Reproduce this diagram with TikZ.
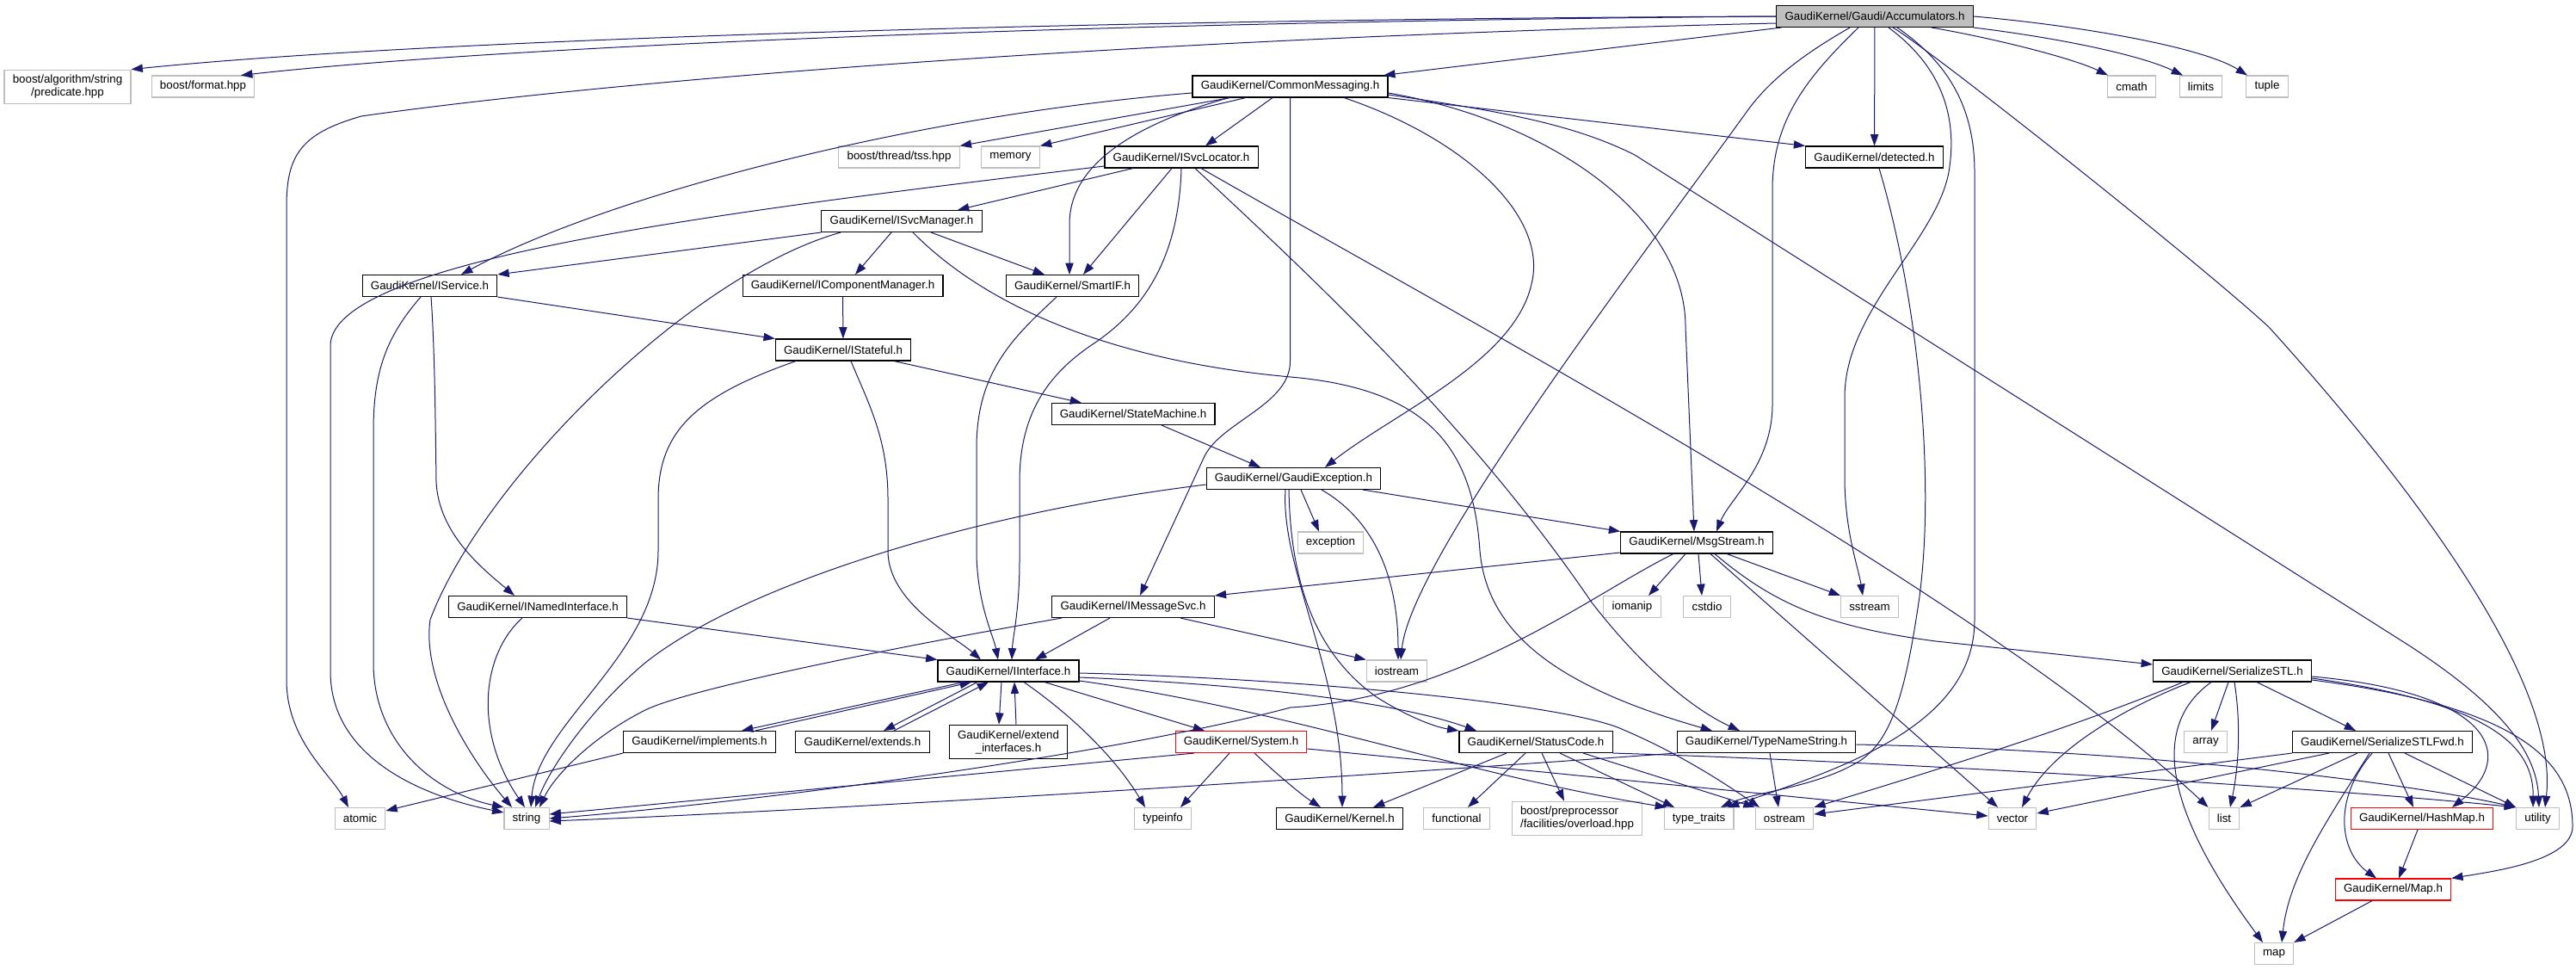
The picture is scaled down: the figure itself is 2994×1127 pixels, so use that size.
\documentclass[tikz,border=0pt]{standalone}
\usepackage{fontspec}
\setmainfont{Liberation Sans}
\usetikzlibrary{arrows.meta}

\definecolor{depblue}{RGB}{25,25,112}
\definecolor{sysgrey}{RGB}{191,191,191}

\tikzset{
    hdr/.style={draw=black, line width=0.8pt, fill=white, inner xsep=7.3pt, inner ysep=4.6pt,
        minimum height=18.75pt, align=center, font=\fontsize{10}{11.25}\selectfont},
    sysinc/.style={hdr, draw=sysgrey},
    nodoc/.style={hdr, draw=red},
    cur/.style={hdr, fill=sysgrey},
    dep/.style={draw=depblue, line width=0.75pt, -{Triangle[length=10pt,width=7pt]}},
}

\begin{document}
\begin{tikzpicture}[x=0.75pt, y=-0.75pt]
\useasboundingbox (0,0) rectangle (2994,1127);

% header files
\node[cur] (acc) at (2179,19) {GaudiKernel/Gaudi/Accumulators.h};
\node[sysinc] (pred) at (78.5,101) {boost/algorithm/string\\/predicate.hpp};
\node[sysinc] (fmt) at (236,100.5) {boost/format.hpp};
\node[hdr] (cm) at (1499.5,100.5) {GaudiKernel/CommonMessaging.h};
\node[sysinc] (cmath) at (2477.5,100.5) {cmath};
\node[sysinc] (limits) at (2558,100.5) {limits};
\node[sysinc] (tuple) at (2635,100.5) {tuple};
\node[sysinc] (tss) at (1045,182.5) {boost/thread/tss.hpp};
\node[sysinc] (mem) at (1174.5,182.5) {memory};
\node[hdr] (isl) at (1373,182.5) {GaudiKernel/ISvcLocator.h};
\node[hdr] (det) at (2178.5,182.5) {GaudiKernel/detected.h};
\node[hdr] (ism) at (1048,257) {GaudiKernel/ISvcManager.h};
\node[hdr] (isv) at (499.5,332) {GaudiKernel/IService.h};
\node[hdr] (icm) at (979.5,332) {GaudiKernel/IComponentManager.h};
\node[hdr] (sif) at (1246.5,332) {GaudiKernel/SmartIF.h};
\node[hdr] (ist) at (980,406.5) {GaudiKernel/IStateful.h};
\node[hdr] (sm) at (1317,481) {GaudiKernel/StateMachine.h};
\node[hdr] (gex) at (1503.5,556) {GaudiKernel/GaudiException.h};
\node[sysinc] (exc) at (1546.5,630.5) {exception};
\node[hdr] (ms) at (1972,630.5) {GaudiKernel/MsgStream.h};
\node[hdr] (ini) at (625,705) {GaudiKernel/INamedInterface.h};
\node[hdr] (ims) at (1317,705) {GaudiKernel/IMessageSvc.h};
\node[sysinc] (iom) at (1897,705) {iomanip};
\node[sysinc] (cst) at (1984,705) {cstdio};
\node[sysinc] (sst) at (2173,705) {sstream};
\node[hdr] (iif) at (1172,779.5) {GaudiKernel/IInterface.h};
\node[sysinc] (ios) at (1623.5,779.5) {iostream};
\node[hdr] (sstl) at (2594.5,779.5) {GaudiKernel/SerializeSTL.h};
\node[hdr] (imp) at (813,862) {GaudiKernel/implements.h};
\node[hdr] (ext) at (1002.5,862) {GaudiKernel/extends.h};
\node[hdr] (exi) at (1172,862) {GaudiKernel/extend\\\_interfaces.h};
\node[nodoc] (sys) at (1442.5,862) {GaudiKernel/System.h};
\node[hdr] (sc) at (1785,862) {GaudiKernel/StatusCode.h};
\node[hdr] (tns) at (2053,862) {GaudiKernel/TypeNameString.h};
\node[sysinc] (arr) at (2563.5,862) {array};
\node[hdr] (sfwd) at (2769,862) {GaudiKernel/SerializeSTLFwd.h};
\node[sysinc] (atm) at (418.5,951) {atomic};
\node[sysinc] (str) at (612,951) {string};
\node[sysinc] (tinf) at (1351.5,951) {typeinfo};
\node[hdr] (krn) at (1557,951) {GaudiKernel/Kernel.h};
\node[sysinc] (fnc) at (1693,951) {functional};
\node[sysinc, align=left] (ovl) at (1833,951) {boost/preprocessor\\/facilities/overload.hpp};
\node[sysinc] (ttr) at (1974.5,951) {type\_traits};
\node[sysinc] (ost) at (2074,951) {ostream};
\node[sysinc] (vec) at (2339,951) {vector};
\node[sysinc] (lst) at (2585,951) {list};
\node[nodoc] (hm) at (2815,951) {GaudiKernel/HashMap.h};
\node[sysinc] (utl) at (2949.5,951) {utility};
\node[nodoc] (mapH) at (2781.5,1033.5) {GaudiKernel/Map.h};
\node[sysinc] (map) at (2643,1108) {map};

% Accumulators.h
\draw[dep] (acc.west) .. controls (1300,22) and (500,45) .. (pred.north east);
\draw[dep] (acc.west) .. controls (1300,25) and (600,52) .. (fmt.north -| 280,0);
\draw[dep] (acc.west |- 0,27) .. controls (1300,45) and (700,95) .. (420,135) .. controls (350,155) and (333,180) .. (333,240) -- (333,790) .. controls (333,860) and (385,900) .. (atm.north -| 405,0);
\draw[dep] (acc) -- (cm);
\draw[dep] (acc.south -| 2150,0) .. controls (2105,58) and (2060,88) .. (2030,130) .. controls (1900,310) and (1640,650) .. (ios.north -| 1628,0);
\draw[dep] (acc.south -| 2160,0) .. controls (2100,90) and (2060,140) .. (2060,220) -- (2060,470) .. controls (2060,540) and (2010,580) .. (ms.north -| 1995,0);
\draw[dep] (acc) -- (det);
\draw[dep] (acc.south -| 2195,0) .. controls (2260,80) and (2275,140) .. (2265,200) .. controls (2250,280) and (2145,360) .. (2144,460) -- (2144,560) .. controls (2145,620) and (2160,660) .. (sst.north -| 2165,0);
\draw[dep] (acc.south -| 2200,0) .. controls (2240,55) and (2550,300) .. (2637,380) .. controls (2800,560) and (2975,790) .. (utl.north -| 2958,0);
\draw[dep] (acc.south -| 2205,0) .. controls (2260,70) and (2295,120) .. (2295,200) -- (2295,720) .. controls (2295,840) and (2150,890) .. (ttr.north -| 2008,0);
\draw[dep] (acc.south -| 2245,0) .. controls (2320,45) and (2410,68) .. (cmath.north -| 2450,0);
\draw[dep] (acc.south east) .. controls (2400,45) and (2490,65) .. (limits.north -| 2537,0);
\draw[dep] (acc.east) .. controls (2420,30) and (2560,55) .. (tuple.north -| 2612,0);

% CommonMessaging.h
\draw[dep] (cm.west |- 0,108) .. controls (1050,135) and (700,230) .. (isv.north -| 536,0);
\draw[dep] (cm.south -| 1430,0) -- (tss.north east);
\draw[dep] (cm.south -| 1448,0) -- (mem.north east);
\draw[dep] (cm.south -| 1479,0) -- (isl.north -| 1401,0);
\draw[dep] (cm.south -| 1428,0) .. controls (1300,150) and (1243,200) .. (1243,260) -- (sif.north -| 1243,0);
\draw[dep] (cm.south) -- (1499.5,420) .. controls (1499.5,470) and (1420,490) .. (1400,530) -- (ims.north -| 1325,0);
\draw[dep] (cm.south -| 1562,0) .. controls (1700,160) and (1800,250) .. (1780,330) .. controls (1760,420) and (1620,480) .. (gex.north -| 1540,0);
\draw[dep] (cm.east |- 0,108) .. controls (1800,140) and (1959,250) .. (1959,380) -- (ms.north -| 1969,0);
\draw[dep] (cm.south east) -- (det.north west);
\draw[dep] (cm.east |- 0,110) .. controls (1750,130) and (1830,145) .. (1900,180) -- (2800,750) .. controls (2900,815) and (2948,870) .. (utl.north -| 2951,0);

% ISvcLocator.h, ISvcManager.h
\draw[dep] (isl.west |- 0,193) .. controls (850,245) and (390,300) .. (384,400) -- (384,780) .. controls (384,880) and (490,925) .. (str.west |- 0,944);
\draw[dep] (isl.south -| 1317,0) -- (ism.north -| 1113,0);
\draw[dep] (isl.south -| 1362,0) -- (sif.north -| 1259,0);
\draw[dep] (isl.south) .. controls (1370,300) and (1330,360) .. (1270,400) .. controls (1210,440) and (1185,490) .. (1185,560) -- (1185,650) .. controls (1185,710) and (1177,740) .. (iif.north -| 1176,0);
\draw[dep] (isl.south -| 1389,0) .. controls (1500,300) and (1700,480) .. (1850,700) .. controls (1920,790) and (1980,830) .. (tns.north -| 2022,0);
\draw[dep] (isl.south -| 1396,0) .. controls (1700,370) and (2300,690) .. (lst.north west);
\draw[dep] (ism.south west) -- (isv.north east);
\draw[dep] (ism.south -| 977,0) .. controls (800,320) and (560,560) .. (500,720) .. controls (490,790) and (545,880) .. (str.north -| 595,0);
\draw[dep] (ism.south -| 1036,0) -- (icm.north -| 994,0);
\draw[dep] (ism.south -| 1082,0) -- (sif.north -| 1214,0);
\draw[dep] (ism.south -| 1061,0) .. controls (1150,360) and (1300,420) .. (1500,438) .. controls (1660,452) and (1712,520) .. (1720,640) .. controls (1728,730) and (1800,795) .. (tns.north -| 1990,0);
\draw[dep] (icm) -- (ist);
\draw[dep] (sif.south -| 1228,0) .. controls (1180,390) and (1135,430) .. (1135,520) -- (1135,640) .. controls (1135,700) and (1155,740) .. (iif.north -| 1160,0);

% IService.h, INamedInterface.h, IStateful.h
\draw[dep] (isv.south -| 489,0) .. controls (450,390) and (434,430) .. (434,500) -- (434,770) .. controls (434,860) and (500,920) .. (str.north west);
\draw[dep] (isv.south -| 501,0) .. controls (505,400) and (506,480) .. (507,560) .. controls (510,620) and (560,660) .. (ini.north -| 598,0);
\draw[dep] (isv.south east) -- (ist.north west);
\draw[dep] (ini.south -| 607,0) .. controls (560,760) and (550,850) .. (str.north -| 610,0);
\draw[dep] (ini.south east) -- (iif.north west);
\draw[dep] (ist.south -| 925,0) .. controls (810,460) and (765,500) .. (765,580) -- (765,640) .. controls (765,760) and (625,840) .. (str.north -| 617,0);
\draw[dep] (ist.south -| 989,0) .. controls (1010,470) and (1032,510) .. (1032,580) -- (1032,640) .. controls (1032,700) and (1110,740) .. (iif.north -| 1140,0);
\draw[dep] (ist.south -| 1039,0) -- (sm.north -| 1257,0);
\draw[dep] (sm.south -| 1350,0) -- (gex.north -| 1465,0);

% GaudiException.h, IMessageSvc.h, MsgStream.h
\draw[dep] (gex.west |- 0,563) .. controls (1100,600) and (850,690) .. (750,770) .. controls (690,820) and (640,890) .. (str.north -| 622,0);
\draw[dep] (gex.south -| 1512,0) -- (exc.north -| 1533,0);
\draw[dep] (gex.south -| 1536,0) .. controls (1590,600) and (1625,660) .. (ios.north -| 1625,0);
\draw[dep] (gex.south -| 1584,0) -- (ms.north west);
\draw[dep] (gex.south -| 1494,0) .. controls (1488,660) and (1560,780) .. (krn.north -| 1560,0);
\draw[dep] (gex.south -| 1498,0) .. controls (1500,680) and (1530,760) .. (1600,810) .. controls (1640,835) and (1670,845) .. (sc.north west);
\draw[dep] (ims.south -| 1234,0) .. controls (1050,750) and (800,800) .. (750,825) .. controls (690,855) and (645,900) .. (str.north -| 627,0);
\draw[dep] (ims.south -| 1290,0) -- (iif.north -| 1203,0);
\draw[dep] (ims.south -| 1372,0) -- (ios.north west);
\draw[dep] (ms.west |- 0,642) -- (ims.north east);
\draw[dep] (ms.south -| 1959,0) -- (iom.north -| 1916,0);
\draw[dep] (ms.south -| 1974,0) -- (cst.north -| 1978,0);
\draw[dep] (ms.south -| 2007,0) -- (sst.north west);
\draw[dep] (ms.south -| 1945,0) .. controls (1850,690) and (1700,810) .. (1500,822) .. controls (1300,875) and (900,930) .. (str.east);
\draw[dep] (ms.south -| 1988,0) -- (vec.north -| 2322,0);
\draw[dep] (ms.south -| 1993,0) .. controls (2060,700) and (2120,728) .. (2250,745) -- (sstl.west |- 0,772);

% IInterface.h
\draw[dep] (iif.south -| 1120,0) -- (imp.north -| 862,0);
\draw[dep] (imp.north -| 878,0) -- (iif.south -| 1129,0);
\draw[dep] (iif.south -| 1136,0) -- (ext.north -| 1027,0);
\draw[dep] (ext.north -| 1039,0) -- (iif.south -| 1149,0);
\draw[dep] (iif.south -| 1164,0) -- (exi.north -| 1161,0);
\draw[dep] (exi.north -| 1181,0) -- (iif.south -| 1179,0);
\draw[dep] (iif.south -| 1190,0) .. controls (1230,820) and (1290,870) .. (tinf.north -| 1331,0);
\draw[dep] (iif.south -| 1214,0) -- (sys.north -| 1400,0);
\draw[dep] (iif.east |- 0,782) .. controls (1500,788) and (1800,815) .. (1880,845) .. controls (1940,870) and (1990,900) .. (ost.north -| 2045,0);
\draw[dep] (iif.east |- 0,787) .. controls (1450,795) and (1620,815) .. (sc.north -| 1716,0);
\draw[dep] (iif.east |- 0,791) .. controls (1500,825) and (1700,900) .. (ttr.north -| 1937,0);
\draw[dep] (imp.south west) -- (atm.east |- 0,942);

% System.h, StatusCode.h, TypeNameString.h, detected.h
\draw[dep] (sys.south -| 1388,0) -- (str.east |- 0,946);
\draw[dep] (sys.south -| 1429,0) -- (tinf.north -| 1372,0);
\draw[dep] (sys.south -| 1458,0) .. controls (1490,905) and (1515,925) .. (krn.north -| 1535,0);
\draw[dep] (sys.east |- 0,870) -- (vec.west |- 0,948);
\draw[dep] (sc.south -| 1751,0) -- (krn.north -| 1596,0);
\draw[dep] (sc.south -| 1773,0) -- (fnc.north -| 1706,0);
\draw[dep] (sc.south -| 1792,0) -- (ovl.north -| 1818,0);
\draw[dep] (sc.south -| 1813,0) -- (ttr.north -| 1946,0);
\draw[dep] (sc.south -| 1840,0) -- (ost.north west);
\draw[dep] (sc.south east) .. controls (2200,885) and (2700,915) .. (utl.north west);
\draw[dep] (tns.south west) .. controls (1600,900) and (1000,940) .. (str.east |- 0,954);
\draw[dep] (tns.south -| 2057,0) -- (ost.north -| 2067,0);
\draw[dep] (tns.east |- 0,865) .. controls (2500,872) and (2800,910) .. (utl.north west);
\draw[dep] (det.south -| 2184,0) .. controls (2230,350) and (2250,560) .. (2230,700) .. controls (2215,800) and (2200,860) .. (2160,885) .. controls (2110,915) and (2040,920) .. (ttr.north -| 2000,0);

% SerializeSTL.h, SerializeSTLFwd.h, HashMap.h, Map.h
\draw[dep] (sstl.south -| 2590,0) -- (arr.north -| 2570,0);
\draw[dep] (sstl.south -| 2597,0) .. controls (2606,850) and (2600,900) .. (lst.north -| 2592,0);
\draw[dep] (sstl.south -| 2570,0) .. controls (2490,850) and (2530,960) .. (map.north -| 2630,0);
\draw[dep] (sstl.south -| 2546,0) .. controls (2450,830) and (2380,880) .. (vec.north -| 2350,0);
\draw[dep] (sstl.south -| 2537,0) .. controls (2400,850) and (2200,910) .. (ost.north east);
\draw[dep] (sstl.south -| 2623,0) -- (sfwd.north -| 2738,0);
\draw[dep] (sstl.east |- 0,786) .. controls (2900,805) and (2925,880) .. (hm.north -| 2850,0);
\draw[dep] (sstl.east |- 0,788) .. controls (2880,815) and (2945,860) .. (utl.north -| 2944,0);
\draw[dep] (sstl.east |- 0,790) .. controls (2920,820) and (2990,880) .. (2990,960) .. controls (2990,1000) and (2900,1012) .. (mapH.north east);
\draw[dep] (sfwd.south west) -- (ost.east |- 0,946);
\draw[dep] (sfwd.south -| 2707,0) -- (vec.east |- 0,945);
\draw[dep] (sfwd.south -| 2740,0) -- (lst.north east);
\draw[dep] (sfwd.south -| 2754,0) .. controls (2700,960) and (2660,1020) .. (map.north -| 2652,0);
\draw[dep] (sfwd.south -| 2757,0) .. controls (2710,930) and (2720,990) .. (mapH.north -| 2762,0);
\draw[dep] (sfwd.south -| 2776,0) -- (hm.north -| 2805,0);
\draw[dep] (sfwd.south -| 2795,0) -- (utl.north west);
\draw[dep] (hm.south -| 2810,0) -- (mapH.north -| 2788,0);
\draw[dep] (mapH.south -| 2757,0) -- (map.north east);
\end{tikzpicture}
\end{document}
